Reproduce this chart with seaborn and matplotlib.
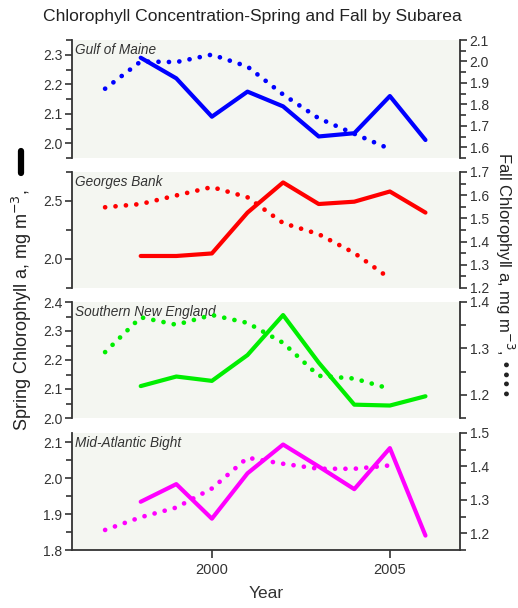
import matplotlib
matplotlib.use("Agg")
import matplotlib.pyplot as plt
import seaborn as sns
from matplotlib.lines import Line2D
from matplotlib.ticker import MultipleLocator

# data
spring_years = [1998, 1999, 2000, 2001, 2002, 2003, 2004, 2005, 2006]
fall_years = [1997, 1998, 1999, 2000, 2001, 2002, 2003, 2004, 2005]

subareas = ["Gulf of Maine", "Georges Bank", "Southern New England", "Mid-Atlantic Bight"]
colors = ["#0000ff", "#ff0000", "#00ee00", "#ff00ff"]

spring_gom = [2.29, 2.22, 2.09, 2.175, 2.125, 2.023, 2.034, 2.16, 2.011]
spring_gb = [2.026, 2.026, 2.048, 2.40, 2.66, 2.474, 2.494, 2.582, 2.40]
spring_sne = [2.11, 2.143, 2.128, 2.217, 2.355, 2.191, 2.046, 2.043, 2.075]
spring_mab = [1.934, 1.983, 1.887, 2.013, 2.093, 2.032, 1.969, 2.083, 1.84]

fall_gom = [1.873, 2.0, 1.997, 2.032, 1.976, 1.846, 1.735, 1.663, 1.592]
fall_gb = [1.548, 1.562, 1.599, 1.635, 1.591, 1.48, 1.432, 1.351, 1.241]
fall_sne = [1.292, 1.367, 1.351, 1.372, 1.355, 1.312, 1.241, 1.235, 1.213]
fall_mab = [1.21, 1.248, 1.277, 1.334, 1.426, 1.408, 1.393, 1.393, 1.403]

spring_all = [spring_gom, spring_gb, spring_sne, spring_mab]
fall_all = [fall_gom, fall_gb, fall_sne, fall_mab]

# axis settings per panel: (ylim, major, minor)
left_axes = [((1.95, 2.35), 0.1, 0.05), ((1.75, 2.75), 0.5, 0.25),
             ((2.0, 2.4), 0.1, 0.05), ((1.8, 2.125), 0.1, 0.05)]
right_axes = [((1.55, 2.1), 0.1, 0.05), ((1.2, 1.7), 0.1, 0.05),
              ((1.15, 1.4), 0.1, 0.05), ((1.15, 1.5), 0.1, 0.05)]

sns.set_theme(style="ticks")
plt.rcParams['font.family'] = ['Liberation Sans', 'DejaVu Sans']
ink = "#333333"

fig = plt.figure(figsize=(5.18, 6.08), dpi=100)
W, H = 518, 608
panel_px = [(40, 118), (172, 116), (302, 116), (433, 117)]

for i, (top, h) in enumerate(panel_px):
    ax = fig.add_axes([72 / W, 1 - (top + h) / H, 388 / W, h / H])
    ax.set_facecolor("#f4f6f1")
    ax2 = ax.twinx()

    sns.lineplot(x=spring_years, y=spring_all[i], ax=ax, color=colors[i], lw=3.0)
    sns.lineplot(x=fall_years, y=fall_all[i], ax=ax2, color=colors[i], lw=3.4,
                 linestyle=(0, (0.01, 2.2)), dash_capstyle="round")

    ax.set_xlim(1996.07, 2006.97)
    (lo, hi), mj, mn = left_axes[i]
    ax.set_ylim(lo, hi)
    ax.yaxis.set_major_locator(MultipleLocator(mj))
    ax.yaxis.set_minor_locator(MultipleLocator(mn))
    ax.yaxis.set_major_formatter(plt.FormatStrFormatter("%.1f"))
    (lo, hi), mj, mn = right_axes[i]
    ax2.set_ylim(lo, hi)
    ax2.yaxis.set_major_locator(MultipleLocator(mj))
    ax2.yaxis.set_minor_locator(MultipleLocator(mn))
    ax2.yaxis.set_major_formatter(plt.FormatStrFormatter("%.1f"))

    for a in (ax, ax2):
        for s in a.spines.values():
            s.set_color(ink)
            s.set_linewidth(1.3)
        a.spines["top"].set_visible(False)
        a.tick_params(axis="y", which="both", direction="out", colors=ink,
                      labelcolor=ink, labelsize=10, width=1.2)
        a.tick_params(axis="y", which="major", length=5, pad=2)
        a.tick_params(axis="y", which="minor", length=4)
        a.set_xlabel("")
        a.set_ylabel("")
    ax.spines["right"].set_visible(False)
    ax2.spines["left"].set_visible(False)
    ax2.spines["bottom"].set_visible(False)

    if i < 3:
        ax.spines["bottom"].set_visible(False)
        ax.set_xticks([])
    else:
        ax.set_xticks([2000, 2005])
        ax.tick_params(axis="x", direction="out", length=6, width=1.2,
                       colors=ink, labelcolor=ink, labelsize=10.5, pad=3)
        ax.set_xlabel("Year", fontsize=12.5, color=ink, labelpad=7)

    ax.text(0.008, 0.975, subareas[i], transform=ax.transAxes, ha="left", va="top",
            style="italic", fontsize=9.8, color=ink)

fig.text(252 / W, 1 - 17 / H, "Chlorophyll Concentration-Spring and Fall by Subarea",
         ha="center", va="center", fontsize=12.6, color="#222222")
fig.text(22 / W, 1 - 310 / H, "Spring Chlorophyll a, mg m$^{-3}$,",
         rotation=90, ha="center", va="center", fontsize=13, color="#222222")
# solid-line key next to the left label
fig.add_artist(Line2D([21 / W, 21 / W], [1 - 173 / H, 1 - 151 / H], lw=4.5,
                      color="black", solid_capstyle="round"))
fig.text(505 / W, 1 - 275 / H, "Fall Chlorophyll a, mg m$^{-3}$, \u2022\u2022\u2022\u2022",
         rotation=270, ha="center", va="center", fontsize=12, color="#222222")

fig.savefig("out.png", dpi=100)
